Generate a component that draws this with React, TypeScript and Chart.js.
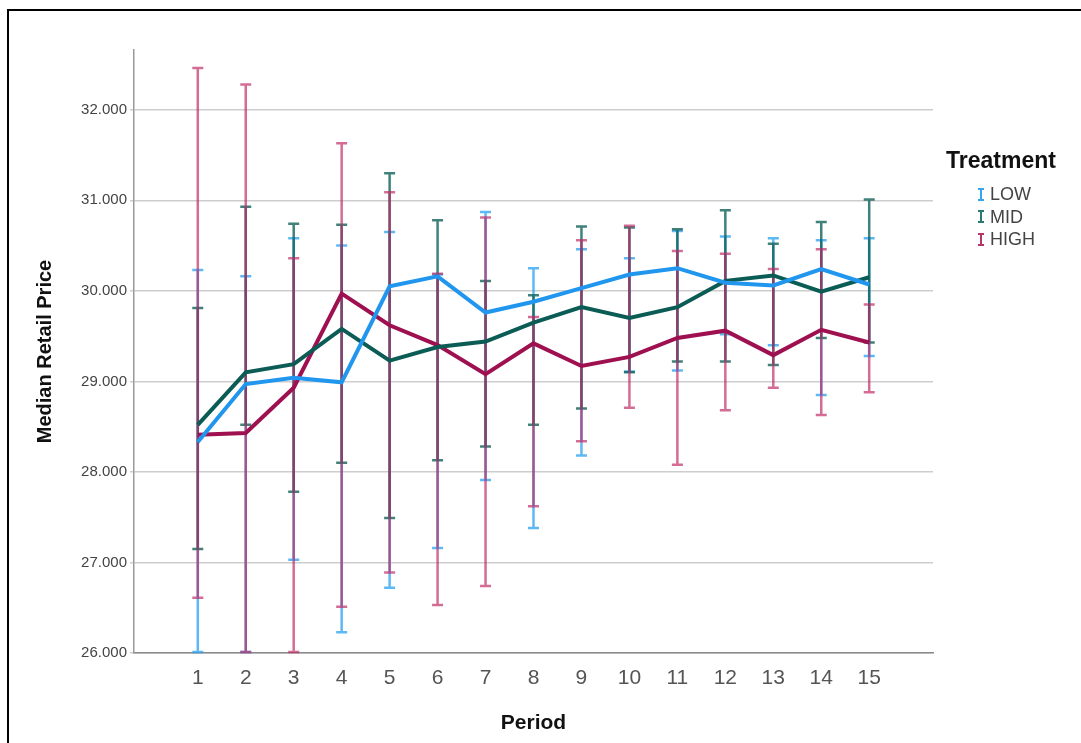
import React, { useEffect, useRef } from "react";
import { Chart, registerables } from "chart.js";

Chart.register(...registerables);

const periods = [1, 2, 3, 4, 5, 6, 7, 8, 9, 10, 11, 12, 13, 14, 15];
const yTickValues = [26, 27, 28, 29, 30, 31, 32];

const lowMedian = [28.33, 28.97, 29.04, 28.99, 30.05, 30.16, 29.76, 29.88, 30.03, 30.18, 30.25, 30.09, 30.06, 30.24, 30.07];
const midMedian = [28.52, 29.1, 29.19, 29.58, 29.23, 29.38, 29.44, 29.65, 29.82, 29.7, 29.82, 30.11, 30.17, 29.99, 30.15];
const highMedian = [28.41, 28.43, 28.93, 29.97, 29.62, 29.4, 29.08, 29.42, 29.17, 29.27, 29.48, 29.56, 29.29, 29.57, 29.43];

const lowUpper = [30.23, 30.16, 30.58, 30.5, 30.65, 30.18, 30.87, 30.25, 30.46, 30.36, 30.66, 30.6, 30.58, 30.56, 30.58];
const lowLower = [26.0, 26.0, 27.03, 26.23, 26.72, 27.16, 27.91, 27.38, 28.18, 29.11, 29.12, 29.52, 29.4, 28.85, 29.28];
const midUpper = [29.81, 30.93, 30.74, 30.73, 31.3, 30.78, 30.11, 29.95, 30.71, 30.7, 30.68, 30.89, 30.52, 30.76, 31.01];
const midLower = [27.15, 28.52, 27.78, 28.1, 27.49, 28.13, 28.28, 28.52, 28.7, 29.1, 29.22, 29.22, 29.18, 29.48, 29.43];
const highUpper = [32.46, 32.28, 30.36, 31.63, 31.09, 30.19, 30.81, 29.71, 30.56, 30.72, 30.44, 30.41, 30.24, 30.46, 29.85];
const highLower = [26.61, 26.0, 26.0, 26.51, 26.89, 26.53, 26.74, 27.62, 28.34, 28.71, 28.08, 28.68, 28.93, 28.63, 28.88];

const seriesNames = ["LOW", "MID", "HIGH"];
const lineColors = ["#2196ee", "#0a5c55", "#9e1050"];
const barColors = ["rgba(40,160,240,0.75)", "rgba(10,95,85,0.78)", "rgba(190,40,100,0.68)"];
const legendIconColors = ["#35a6ee", "#2b7a70", "#b8346c"];

const FONT = "'Liberation Sans', Arial, Helvetica, sans-serif";

const errorBarPlugin = {
  id: "errorBars",
  beforeDatasetsDraw(chart: any) {
    const { ctx, chartArea, scales } = chart;
    const xs = scales.x;
    const ys = scales.y;
    const sets = [
      { upper: lowUpper, lower: lowLower },
      { upper: midUpper, lower: midLower },
      { upper: highUpper, lower: highLower },
    ];
    ctx.save();
    ctx.beginPath();
    ctx.rect(chartArea.left, chartArea.top - 2, chartArea.right - chartArea.left, chartArea.bottom - chartArea.top + 3);
    ctx.clip();
    sets.forEach((s, si) => {
      ctx.strokeStyle = barColors[si];
      ctx.lineWidth = 2.5;
      ctx.beginPath();
      periods.forEach((p, i) => {
        const px = xs.getPixelForValue(p);
        const yt = ys.getPixelForValue(s.upper[i]);
        const yb = Math.min(ys.getPixelForValue(s.lower[i]), chartArea.bottom - 1);
        ctx.moveTo(px, yt);
        ctx.lineTo(px, yb);
        ctx.moveTo(px - 5.5, yt);
        ctx.lineTo(px + 5.5, yt);
        ctx.moveTo(px - 5.5, yb);
        ctx.lineTo(px + 5.5, yb);
      });
      ctx.stroke();
    });
    ctx.restore();
  },
};

function IBeam({ color }: { color: string }) {
  return (
    <svg width="8" height="13" style={{ display: "block" }}>
      <line x1="1" y1="1" x2="7" y2="1" stroke={color} strokeWidth="2" />
      <line x1="4" y1="1" x2="4" y2="12" stroke={color} strokeWidth="2" />
      <line x1="1" y1="12" x2="7" y2="12" stroke={color} strokeWidth="2" />
    </svg>
  );
}

export default function App() {
  const canvasRef = useRef<HTMLCanvasElement | null>(null);

  useEffect(() => {
    if (!canvasRef.current) return;
    const medians = [lowMedian, midMedian, highMedian];
    const chart = new Chart(canvasRef.current, {
      type: "line",
      data: {
        datasets: medians.map((m, si) => ({
          label: seriesNames[si],
          data: periods.map((p, i) => ({ x: p, y: m[i] })),
          borderColor: lineColors[si],
          backgroundColor: lineColors[si],
          borderWidth: 4,
          pointRadius: 0,
          tension: 0,
          fill: false,
        })),
      },
      options: {
        responsive: false,
        animation: false,
        layout: { padding: { left: 24, top: 50, right: 148, bottom: 0 } },
        plugins: {
          legend: { display: false },
          tooltip: { enabled: false },
        },
        scales: {
          x: {
            type: "linear",
            min: -0.33,
            max: 16.33,
            afterBuildTicks: (scale: any) => {
              scale.ticks = periods.map((v) => ({ value: v }));
            },
            afterFit: (scale: any) => {
              scale.height = 90;
            },
            ticks: {
              callback: (v: any) => String(v),
              font: { family: FONT, size: 21 },
              color: "#555",
              padding: 13,
              maxRotation: 0,
              autoSkip: false,
            },
            grid: { display: false, drawTicks: false },
            border: { display: true, color: "#8a8a8a", width: 1.5 },
            title: {
              display: true,
              text: "Period",
              font: { family: FONT, size: 21, weight: "bold" },
              color: "#111",
              padding: { top: 0, bottom: 7 },
            },
          },
          y: {
            type: "linear",
            min: 26,
            max: 32.66,
            afterBuildTicks: (scale: any) => {
              scale.ticks = yTickValues.map((v) => ({ value: v }));
            },
            afterFit: (scale: any) => {
              scale.width = 110;
            },
            ticks: {
              callback: (v: any) => Number(v).toFixed(3),
              font: { family: FONT, size: 15 },
              color: "#444",
              padding: 3,
            },
            grid: { color: "#cdcdcd", lineWidth: 1.5, tickLength: 4, drawTicks: true },
            border: { display: true, color: "#9a9a9a", width: 1.5 },
            title: {
              display: true,
              text: "Median Retail Price",
              font: { family: FONT, size: 20, weight: "bold" },
              color: "#111",
              padding: { top: 9, bottom: 0 },
            },
          },
        },
      } as any,
      plugins: [errorBarPlugin],
    });
    return () => chart.destroy();
  }, []);

  return (
    <div style={{ position: "fixed", left: 0, top: 0, width: 1081, height: 743, overflow: "hidden", background: "#fff" }}>
      <canvas ref={canvasRef} width={1081} height={743} style={{ position: "absolute", left: 0, top: 0, width: 1081, height: 743 }} />
      <div
        style={{
          position: "absolute",
          left: 7,
          top: 9,
          width: 1100,
          height: 760,
          borderLeft: "2px solid #000",
          borderTop: "2px solid #000",
          pointerEvents: "none",
        }}
      />
      <div style={{ position: "absolute", left: 946, top: 146, fontFamily: FONT, color: "#111" }}>
        <div style={{ fontSize: 23, fontWeight: "bold", lineHeight: "28px" }}>Treatment</div>
        <div style={{ marginLeft: 31, marginTop: 9 }}>
          {seriesNames.map((n, i) => (
            <div key={n} style={{ display: "flex", alignItems: "center", height: 22.5 }}>
              <IBeam color={legendIconColors[i]} />
              <span style={{ fontSize: 18, color: "#444", marginLeft: 5, lineHeight: "20px" }}>{n}</span>
            </div>
          ))}
        </div>
      </div>
    </div>
  );
}
